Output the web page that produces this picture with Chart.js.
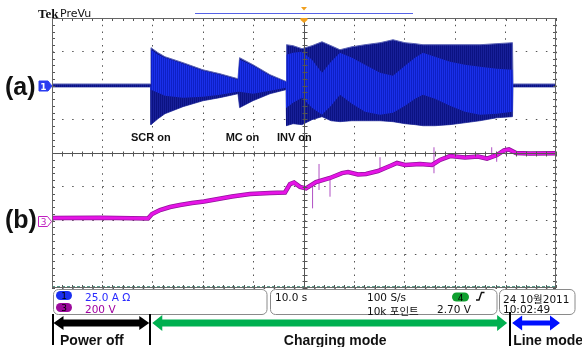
<!DOCTYPE html>
<html>
<head>
<meta charset="utf-8">
<script src="https://cdn.jsdelivr.net/npm/chart.js@4.4.1/dist/chart.umd.min.js"></script>
<style>
    body { margin: 0; background: #fff; }
    #wrap { position: relative; width: 582px; height: 347px; overflow: hidden; }
    #wrap canvas { position: absolute; left: 0; top: 0; }
    .t { position: absolute; white-space: nowrap; line-height: 1; }
    .big { font: bold 25px "Liberation Sans", Arial, sans-serif; color: #111; }
    .note { font: bold 11px "Liberation Sans", Arial, sans-serif; color: #111; }
    .stat { font: 10.5px "DejaVu Sans", "Noto Sans CJK KR", sans-serif; color: #111; }
    .phase { font: bold 14px "Liberation Sans", Arial, sans-serif; color: #111; }
    .pill { font: 9px "DejaVu Sans", sans-serif; text-align: center; }
</style>
</head>
<body>
<div id="wrap"><canvas id="scope" width="582" height="347"></canvas></div>
<script>
// Channel 1 current (A): outer envelope and the brighter inner band
const ch1Time    = [0, 19.54, 19.64, 21.03, 22.42, 25.99, 29.96, 33.33, 36.90, 37.22, 39.88, 43.25, 46.43, 46.53, 47.82, 49.60, 51.59, 53.57, 55.36, 57.14, 59.52, 62.10, 65.08, 67.66, 70.04, 72.02, 73.61, 75.99, 78.97, 81.94, 84.92, 88.29, 91.37, 91.47, 100];
const ch1OuterHi = [1.1, 1.1, 28.0, 24.3, 21.3, 16.9, 11.6, 8.7, 5.0, 20.6, 15.4, 8.0, 3.0, 30.2, 29.5, 27.3, 29.5, 32.4, 29.5, 26.5, 28.7, 30.2, 31.7, 33.9, 31.7, 31.0, 30.2, 30.2, 30.2, 30.2, 30.2, 31.0, 31.7, 1.1, 1.1];
const ch1OuterLo = [-1.1, -1.1, -29.0, -24.6, -20.9, -15.7, -11.3, -9.0, -6.1, -16.4, -11.3, -6.1, -3.1, -29.8, -28.3, -29.0, -25.3, -23.1, -26.1, -26.8, -26.1, -26.1, -26.1, -26.8, -28.3, -29.0, -29.8, -29.8, -29.0, -27.6, -26.1, -23.9, -23.1, -1.1, -1.1];
const ch1InnerHi = [0, 0, 26.5, 22.8, 20.6, 16.1, 10.9, 8.0, 4.3, 19.1, 14.7, 7.3, 2.8, 22.8, 24.3, 25.0, 19.1, 9.5, 17.6, 24.3, 20.6, 15.4, 9.5, 7.3, 14.7, 20.6, 24.3, 21.3, 17.6, 15.4, 13.9, 12.4, 11.7, 0, 0];
const ch1InnerLo = [0, 0, -3.1, -5.3, -7.6, -9.0, -8.3, -6.8, -4.6, -4.6, -6.1, -3.9, -1.6, -16.4, -12.7, -9.0, -16.4, -21.6, -15.0, -6.8, -13.5, -19.4, -21.6, -20.1, -15.0, -9.8, -6.8, -9.8, -15.0, -19.4, -21.6, -20.9, -19.4, 0, 0];

// Channel 3 voltage (V)
const ch3Time  = [0, 9.52, 19.05, 19.84, 21.43, 23.41, 25.40, 27.78, 30.16, 32.94, 35.71, 39.29, 43.25, 46.23, 47.22, 48.02, 49.21, 50.40, 52.38, 55.16, 57.54, 58.73, 60.71, 62.30, 64.68, 67.06, 68.45, 70.04, 73.02, 75.40, 76.98, 78.97, 81.94, 84.52, 86.31, 88.29, 89.68, 90.67, 92.06, 94.84, 100];
const ch3Volts = [15, 17, 12, 38, 62, 80, 92, 104, 113, 127, 142, 157, 163, 166, 216, 225, 199, 190, 228, 252, 281, 287, 273, 276, 293, 323, 341, 329, 335, 329, 359, 382, 373, 379, 367, 388, 415, 421, 400, 397, 398];
const spikeTime = [51.7, 52.98, 55.16, 65.08, 75.79, 87.24, 88.23];
const spikeLow  = [72, 181, 141, 298, 280, 375, 348];
const spikeHigh = [215, 335, 252, 375, 434, 434, 388];

// Channel 4 sits on the bottom edge
const ch4Time = [0, 100];
const ch4Level = [-149, -149];

// Events and operating phases (s)
const eventNames = ['SCR on', 'MC on', 'INV on'];
const eventTimes = [19.6, 37.2, 46.5];
const phaseNames = ['Power off', 'Charging mode', 'Line mode'];
const phaseStart = [0, 19.5, 90.9];
const phaseEnd   = [19.5, 90.9, 100];

const pts = (xs, ys) => xs.map((x, i) => ({ x: x, y: ys[i] }));

const canvas = document.getElementById('scope');
const ctx0 = canvas.getContext('2d');
function stripes(a, b) {
    const c = document.createElement('canvas');
    c.width = 2; c.height = 1;
    const g = c.getContext('2d');
    g.fillStyle = a; g.fillRect(0, 0, 1, 1);
    g.fillStyle = b; g.fillRect(1, 0, 1, 1);
    return ctx0.createPattern(c, 'repeat');
}
const navyFill = stripes('#0b1282', '#18209a');
const blueFill = stripes('#1a30ea', '#0e20c6');

const spikePts = [];
spikeTime.forEach((t, i) => {
    spikePts.push({ x: t, y: spikeLow[i] }, { x: t, y: spikeHigh[i] }, { x: t, y: null });
});

const clear = 'rgba(0,0,0,0)';

// Frame, centre cross and minor ticks over the traces
const framePlugin = {
    id: 'frame',
    afterDatasetsDraw(chart) {
        const ctx = chart.ctx;
        const { left, right, top, bottom } = chart.chartArea;
        const xs = chart.scales.x, ys = chart.scales.y1;
        const cx = Math.round(xs.getPixelForValue(50)) + 0.5;
        const cy = Math.round(ys.getPixelForValue(-50)) + 0.5;
        ctx.save();
        ctx.strokeStyle = '#555';
        ctx.lineWidth = 1;
        ctx.beginPath();
        ctx.moveTo(cx, top); ctx.lineTo(cx, bottom);
        ctx.moveTo(left, cy); ctx.lineTo(right, cy);
        for (let t = 0; t <= 100; t += 2) {
            const px = Math.round(xs.getPixelForValue(t)) + 0.5;
            ctx.moveTo(px, cy - 2); ctx.lineTo(px, cy + 3);
            ctx.moveTo(px, top); ctx.lineTo(px, top + 3);
            ctx.moveTo(px, bottom); ctx.lineTo(px, bottom - 3);
        }
        for (let v = -150; v <= 50; v += 5) {
            const py = Math.round(ys.getPixelForValue(v)) + 0.5;
            ctx.moveTo(cx - 2, py); ctx.lineTo(cx + 3, py);
            ctx.moveTo(left, py); ctx.lineTo(left + 3, py);
            ctx.moveTo(right, py); ctx.lineTo(right - 3, py);
        }
        ctx.stroke();
        ctx.strokeStyle = '#666';
        ctx.strokeRect(left + 0.5, top + 0.5, right - left - 1, bottom - top - 1);
        ctx.restore();
    }
};

function arrow(ctx, x1, x2, y, shaft, headH, headL, color) {
    ctx.fillStyle = color;
    ctx.beginPath();
    ctx.moveTo(x1, y);
    ctx.lineTo(x1 + headL, y - headH / 2);
    ctx.lineTo(x1 + headL, y - shaft / 2);
    ctx.lineTo(x2 - headL, y - shaft / 2);
    ctx.lineTo(x2 - headL, y - headH / 2);
    ctx.lineTo(x2, y);
    ctx.lineTo(x2 - headL, y + headH / 2);
    ctx.lineTo(x2 - headL, y + shaft / 2);
    ctx.lineTo(x1 + headL, y + shaft / 2);
    ctx.lineTo(x1 + headL, y + headH / 2);
    ctx.closePath();
    ctx.fill();
}

function marker(ctx, x, y, fill, stroke) {
    ctx.beginPath();
    ctx.moveTo(x - 13, y - 5);
    ctx.lineTo(x - 4, y - 5);
    ctx.lineTo(x, y);
    ctx.lineTo(x - 4, y + 5);
    ctx.lineTo(x - 13, y + 5);
    ctx.closePath();
    ctx.fillStyle = fill;
    ctx.fill();
    ctx.strokeStyle = stroke;
    ctx.lineWidth = 1;
    ctx.stroke();
}

// Everything outside the graticule: header, markers, readout boxes, phase arrows
const decorPlugin = {
    id: 'decor',
    afterDraw(chart) {
        const ctx = chart.ctx;
        const xs = chart.scales.x;
        const { top } = chart.chartArea;
        const cx = xs.getPixelForValue(50);
        ctx.save();
        // header record bar and trigger markers
        ctx.strokeStyle = '#5562e6';
        ctx.lineWidth = 1;
        ctx.beginPath(); ctx.moveTo(195, 13.5); ctx.lineTo(413, 13.5); ctx.stroke();
        ctx.fillStyle = '#f0a020';
        ctx.beginPath(); ctx.moveTo(cx - 3, 7); ctx.lineTo(cx + 3, 7); ctx.lineTo(cx, 10.5); ctx.closePath(); ctx.fill();
        ctx.beginPath(); ctx.moveTo(cx - 3.5, top); ctx.lineTo(cx + 3.5, top); ctx.lineTo(cx + 3.5, top + 2); ctx.lineTo(cx, top + 5); ctx.lineTo(cx - 3.5, top + 2); ctx.closePath(); ctx.fill();

        // channel ground markers
        marker(ctx, 52, Math.round(chart.scales.y1.getPixelForValue(0)), '#2a3cf0', '#2a3cf0');
        marker(ctx, 51.5, Math.round(chart.scales.y3.getPixelForValue(0)) + 0.5, '#fff', '#c020c0');

        // readout boxes
        ctx.strokeStyle = '#8a8a8a';
        ctx.lineWidth = 1;
        [[53.5, 267], [270.5, 497], [499.5, 575]].forEach(([a, b]) => {
            ctx.beginPath(); ctx.roundRect(a, 289.5, b - a, 25, 5); ctx.stroke();
        });
        const pill = (x, y, w, c) => {
            ctx.fillStyle = c;
            ctx.beginPath(); ctx.roundRect(x, y, w, 9, 4.5); ctx.fill();
        };
        pill(56, 291, 16, '#1a2ff0');
        pill(56, 303, 16, '#9c0a9c');
        pill(452, 292.5, 17, '#10a030');
        ctx.strokeStyle = '#111';
        ctx.lineWidth = 1.4;
        ctx.beginPath(); ctx.moveTo(476, 300); ctx.lineTo(479, 300); ctx.lineTo(481.5, 292.5); ctx.lineTo(484.5, 292.5); ctx.stroke();

        // phase arrows and separators
        const p0 = phaseStart.map(v => xs.getPixelForValue(v));
        const p1 = phaseEnd.map(v => xs.getPixelForValue(v));
        arrow(ctx, p0[0] + 1.5, p1[0] - 1, 323, 7, 14, 10, '#000');
        arrow(ctx, p0[1] + 2, p1[1] - 3, 323, 7, 16, 10, '#00b050');
        arrow(ctx, p0[2] + 2, p1[2] + 4, 323, 5, 15, 10, '#0010ff');
        ctx.fillStyle = '#000';
        ctx.fillRect(Math.round(p0[0]), 314, 2, 31);
        ctx.fillRect(Math.round(p0[1]) - 1, 314, 2, 31);
        ctx.fillRect(Math.round(p0[2]) - 1, 312, 2, 34);
        ctx.restore();
    }
};

const chart = new Chart(canvas, {
    type: 'line',
    data: {
        datasets: [
            { label: 'Ch3', data: pts(ch3Time, ch3Volts), yAxisID: 'y3', borderColor: '#e614e6', borderWidth: 3 },
            { label: 'Ch3 edge', data: pts(ch3Time, ch3Volts), yAxisID: 'y3', borderColor: '#8e1498', borderWidth: 4.5 },
            { label: 'Ch3 spikes', data: spikePts, yAxisID: 'y3', borderColor: '#b050c4', borderWidth: 1, spanGaps: false },
            { label: 'Ch1 inner', data: pts(ch1Time, ch1InnerHi), yAxisID: 'y1', borderColor: clear, borderWidth: 1, fill: '+1', backgroundColor: blueFill },
            { label: 'Ch1 inner lo', data: pts(ch1Time, ch1InnerLo), yAxisID: 'y1', borderColor: clear, borderWidth: 1 },
            { label: 'Ch1 outer', data: pts(ch1Time, ch1OuterHi), yAxisID: 'y1', borderColor: '#5a62b4', borderWidth: 1, fill: '+1', backgroundColor: navyFill },
            { label: 'Ch1 outer lo', data: pts(ch1Time, ch1OuterLo), yAxisID: 'y1', borderColor: '#5a62b4', borderWidth: 1 },
            { label: 'Ch4', data: pts(ch4Time, ch4Level), yAxisID: 'y1', borderColor: '#3c8c78', borderWidth: 1, borderDash: [3, 2] }
        ]
    },
    options: {
        responsive: false,
        animation: false,
        elements: { point: { radius: 0 }, line: { tension: 0 } },
        layout: { padding: { left: 52, top: 18, right: 26, bottom: 59 } },
        plugins: { legend: { display: false }, tooltip: { enabled: false } },
        scales: {
            x: {
                type: 'linear', min: 0, max: 100,
                ticks: { display: false, stepSize: 10 },
                grid: { color: '#555', lineWidth: 1, drawTicks: false },
                border: { display: false, dash: [1.5, 5.25] }
            },
            y1: {
                type: 'linear', position: 'left', min: -150, max: 50,
                ticks: { display: false, stepSize: 25 },
                grid: { color: '#555', lineWidth: 1, drawTicks: false },
                border: { display: false, dash: [1.5, 8.58] }
            },
            y3: { type: 'linear', display: false, min: -400, max: 1200 }
        }
    },
    plugins: [framePlugin, decorPlugin]
});

// Text overlays
const wrap = document.getElementById('wrap');
function addText(txt, cls, left, top, extra) {
    const d = document.createElement('div');
    d.className = 't ' + cls;
    d.textContent = txt;
    d.style.left = left + 'px';
    d.style.top = top + 'px';
    if (extra) Object.assign(d.style, extra);
    wrap.appendChild(d);
    return d;
}
const xs = chart.scales.x;

addText('Tek', 'big', 38, 6, { font: 'bold 13px "Liberation Serif", serif' });
addText('PreVu', 'stat', 60, 7, { fontSize: '11px' });
addText('(a)', 'big', 5, 72);
addText('(b)', 'big', 5, 205);
addText('1', 'pill', 39, Math.round(chart.scales.y1.getPixelForValue(0)) - 4, { width: '9px', color: '#fff', fontWeight: 'bold' });
addText('3', 'pill', 39, Math.round(chart.scales.y3.getPixelForValue(0)) - 4, { width: '9px', color: '#c020c0' });

const eventShift = [0, 3, 8];
eventNames.forEach((n, i) => {
    addText(n, 'note', xs.getPixelForValue(eventTimes[i]) + eventShift[i], 131, { transform: 'translateX(-50%)' });
});

addText('1', 'pill', 56, 291, { width: '16px', color: '#000' });
addText('3', 'pill', 56, 303, { width: '16px', color: '#000' });
addText('4', 'pill', 452, 292.5, { width: '17px', color: '#000' });
addText('25.0 A  Ω', 'stat', 85, 291, { color: '#2a2aff' });
addText('200 V', 'stat', 85, 303, { color: '#a000a0' });
addText('10.0 s', 'stat', 275, 291);
addText('100 S/s', 'stat', 367, 291);
addText('10k 포인트', 'stat', 367, 303);
addText('2.70 V', 'stat', 437, 303);
addText('24 10월2011', 'stat', 503, 291);
addText('10:02:49', 'stat', 503, 303);

const p0 = phaseStart.map(v => xs.getPixelForValue(v));
const p1 = phaseEnd.map(v => xs.getPixelForValue(v));
addText(phaseNames[0], 'phase', p0[0] + 8, 332);
addText(phaseNames[1], 'phase', (p0[1] + p1[1]) / 2 + 5, 332, { transform: 'translateX(-50%)' });
addText(phaseNames[2], 'phase', p0[2] + 3, 332);
</script>
</body>
</html>
